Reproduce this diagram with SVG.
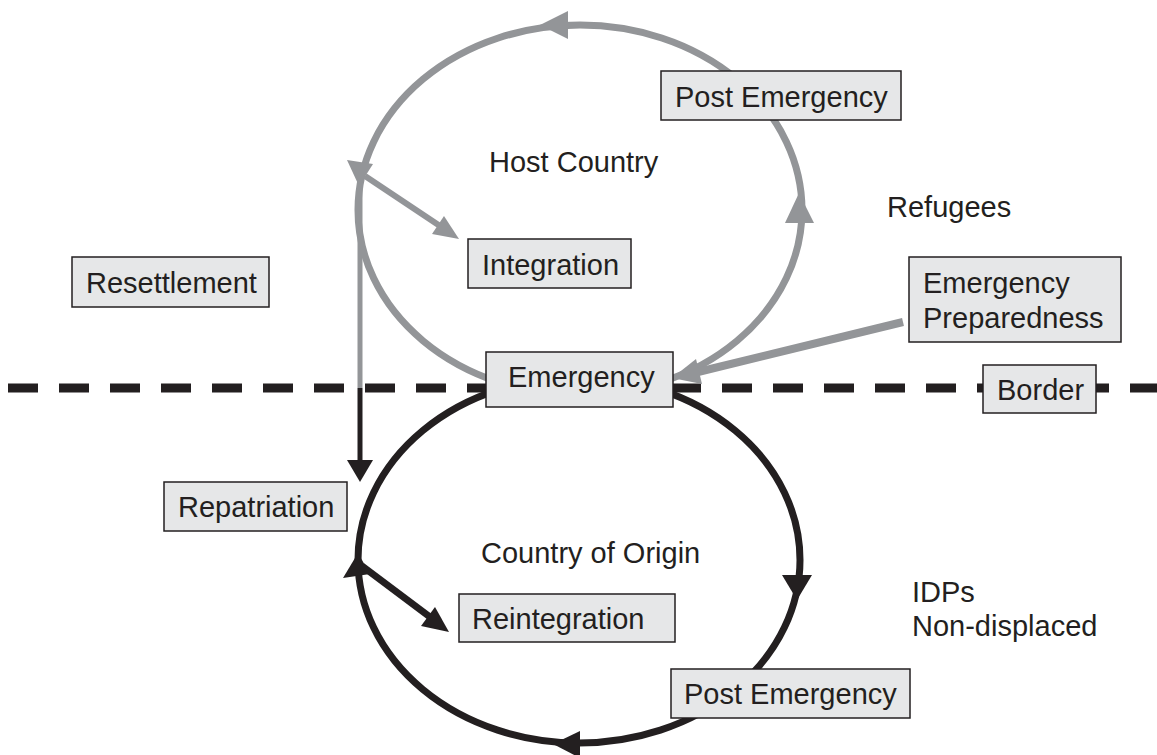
<svg xmlns="http://www.w3.org/2000/svg" width="1157" height="755" viewBox="0 0 1157 755">
<style>
.bx rect{fill:#e6e7e8;stroke:#231f20;stroke-width:1.5}
text{font-family:"Liberation Sans",Arial,sans-serif;font-size:29px;fill:#231f20}
.g{stroke:#939598;fill:none}
.k{stroke:#231f20;fill:none}
.gf{fill:#939598}
.kf{fill:#231f20}
</style>
<rect width="1157" height="755" fill="#fff"/>
<g id="border-line">
<line x1="8" y1="388" x2="1157" y2="388" stroke="#231f20" stroke-width="9" stroke-dasharray="30 21"/>
</g>
<g id="connectors">
<ellipse class="g" cx="580" cy="210" rx="222" ry="185" stroke-width="7"/>
<ellipse class="k" cx="579" cy="560" rx="221" ry="183" stroke-width="7"/>
<polygon class="gf" points="540,25 568,11 568,39"/>
<polygon class="gf" points="799,193 785,223 814,223"/>
<polygon class="gf" points="359,186 347,160 373,164"/>
<line class="g" x1="365" y1="176" x2="440" y2="226" stroke-width="6"/>
<polygon class="gf" points="459,239 432,234 444,216"/>
<line class="g" x1="360" y1="168" x2="360" y2="388" stroke-width="5"/>
<line class="k" x1="360" y1="388" x2="360" y2="462" stroke-width="5"/>
<polygon class="kf" points="360,482 347,460 373,460"/>
<polygon class="kf" points="797,600 782,575 812,575"/>
<polygon class="kf" points="553,744 580,731 580,758"/>
<polygon class="kf" points="358,553 343,578 370,574"/>
<line class="k" x1="362" y1="566" x2="430" y2="617" stroke-width="7"/>
<polygon class="kf" points="449,632 421,626 435,607"/>
<line class="g" x1="903" y1="322" x2="698" y2="372" stroke-width="8"/>
<polygon class="gf" points="672,378 702,384 696,359"/>
</g>
<g id="post-emergency-top" class="bx"><rect x="661" y="71" width="240" height="49"/><text x="675" y="107">Post Emergency</text></g>
<g id="integration" class="bx"><rect x="468" y="239" width="163" height="49"/><text x="482" y="275">Integration</text></g>
<g id="resettlement" class="bx"><rect x="72" y="257" width="197" height="50"/><text x="86" y="293">Resettlement</text></g>
<g id="repatriation" class="bx"><rect x="164" y="482" width="183" height="49"/><text x="178" y="517">Repatriation</text></g>
<g id="emergency" class="bx"><rect x="486" y="352" width="187" height="55"/><text x="508" y="387">Emergency</text></g>
<g id="emergency-preparedness" class="bx"><rect x="909" y="257" width="212" height="85"/><text x="923" y="293">Emergency</text><text x="923" y="328">Preparedness</text></g>
<g id="border" class="bx"><rect x="983" y="365" width="113" height="48"/><text x="997" y="400">Border</text></g>
<g id="reintegration" class="bx"><rect x="459" y="594" width="216" height="48"/><text x="472" y="629">Reintegration</text></g>
<g id="post-emergency-bottom" class="bx"><rect x="671" y="669" width="239" height="49"/><text x="684" y="704">Post Emergency</text></g>
<g id="labels">
<text x="489" y="172">Host Country</text>
<text x="887" y="217">Refugees</text>
<text x="481" y="563">Country of Origin</text>
<text x="912" y="602">IDPs</text>
<text x="912" y="636">Non-displaced</text>
</g>
</svg>
